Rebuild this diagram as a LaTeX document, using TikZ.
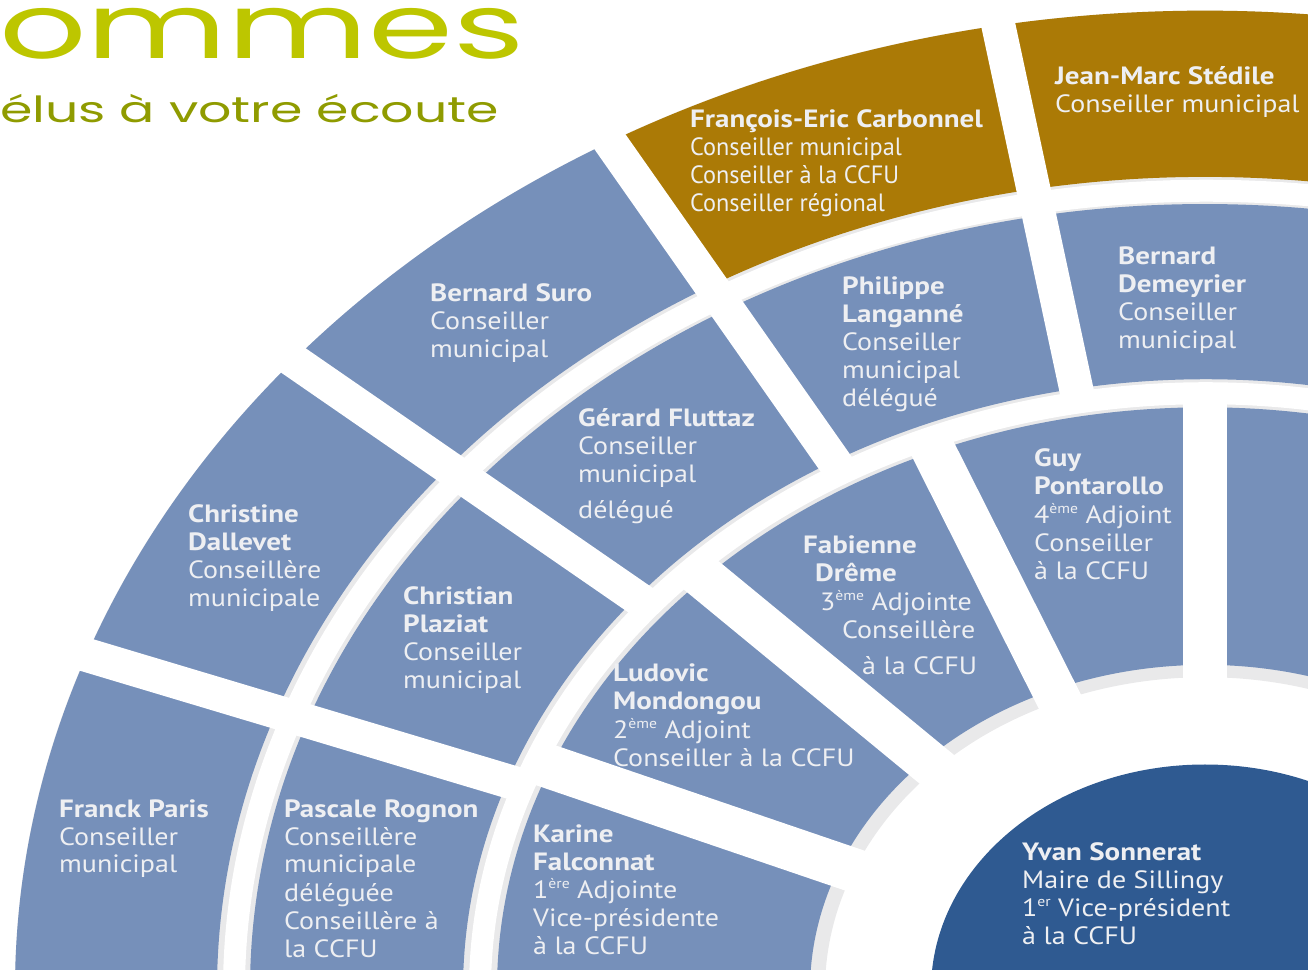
\documentclass[tikz,border=0pt]{standalone}
\usepackage{fontspec}
\setmainfont{PT Sans}
\newfontfamily\regfont[FakeStretch=1.12]{PT Sans}
\newfontfamily\serrefont[FakeStretch=0.97]{PT Sans}
\newfontfamily\nomfont[FakeStretch=1.16]{PT Sans Bold}
\newfontfamily\titrefont[FakeStretch=1.52]{Poppins}
\newfontfamily\soustitrefont[FakeStretch=1.45]{Poppins}
\usepackage{tikz}
\definecolor{fanblue}{HTML}{7690BA}
\definecolor{fangold}{HTML}{AB7A06}
\definecolor{mayorblue}{HTML}{2F5A91}
\definecolor{gapgrey}{HTML}{E9E9EA}
\definecolor{nametext}{HTML}{EEEFF2}
\definecolor{titlegreen}{HTML}{BDC600}
\definecolor{subgreen}{HTML}{8F9B00}
\tikzstyle{elu} = [anchor=base west, inner sep=0pt, text=nametext, font=\regfont\fontsize{25}{28}\selectfont]
\tikzstyle{gap} = [white, line cap=butt]
\newcommand{\nom}[1]{{\nomfont #1}}
\newcommand{\expo}[1]{\raisebox{0.8ex}{\fontsize{14}{14}\selectfont #1}}
\newcommand{\fiche}[1]{\begin{tabular}[t]{@{}l@{}}#1\end{tabular}}
\newcommand{\secteur}[5]{\fill[#5] (#1:#3) arc[start angle=#1, end angle=#2, radius=#3] -- (#2:#4) arc[start angle=#2, end angle=#1, radius=#4] -- cycle;}

\begin{document}
\begin{tikzpicture}[x=1pt,y=1pt]
\useasboundingbox (0,0) rectangle (1308,969);
\clip (0,0) rectangle (1308,969);

% the fan, centre below the page
\begin{scope}[shift={(1205,-21)}, yscale=0.823]
  \secteur{60}{182}{380}{1190}{gapgrey}
  % inner ring
  \secteur{60}{182}{395}{708}{fanblue}
  % middle ring
  \secteur{60}{182}{742}{955}{fanblue}
  % outer ring
  \secteur{120}{182}{988}{1190}{fanblue}
  \secteur{60}{120}{988}{1190}{fangold}
  % gaps
  \foreach \a in {90,112.5,135,157.5}
    \draw[gap, line width=44] (\a:370) -- (\a:725);
  \foreach \a in {100,120,140,160}
    \draw[gap, line width=34] (\a:725) -- (\a:1250);
  \draw[gap, line width=22] (60:725) arc[start angle=60, end angle=182, radius=725];
  \draw[gap, line width=22] (60:971) arc[start angle=60, end angle=182, radius=971];
  \fill[mayorblue] (0,0) circle[radius=274];
\end{scope}

% title
\node[anchor=base west, inner sep=0pt, text=titlegreen, font=\titrefont\fontsize{90}{90}\selectfont] (titre) at (-1,910) {ommes};
\node[anchor=base west, inner sep=0pt, text=subgreen, font=\soustitrefont\fontsize{36}{36}\selectfont] (soustitre) at (0,846) {élus à votre écoute};

% outer ring
\node[elu] (paris) at (59,152) {\fiche{\nom{Franck Paris}\\Conseiller\\municipal}};
\node[elu] (dallevet) at (188,446) {\fiche{\nom{Christine}\\\nom{Dallevet}\\Conseillère\\municipale}};
\node[elu] (suro) at (430,667) {\fiche{\nom{Bernard Suro}\\Conseiller\\municipal}};
\node[elu] (carbonnel) at (690,841) {\fiche{\nom{François-Eric Carbonnel}\\\serrefont Conseiller municipal\\\serrefont Conseiller à la CCFU\\\serrefont Conseiller régional}};
\node[elu] (stedile) at (1055,884) {\fiche{\nom{Jean-Marc Stédile}\\Conseiller municipal}};

% middle ring
\node[elu] (rognon) at (284,152) {\fiche{\nom{Pascale Rognon}\\Conseillère\\municipale\\déléguée\\Conseillère à\\la CCFU}};
\node[elu] (plaziat) at (403,364) {\fiche{\nom{Christian}\\\nom{Plaziat}\\Conseiller\\municipal}};
\node[elu] (fluttaz) at (578,542) {\fiche{\nom{Gérard Fluttaz}\\Conseiller\\municipal\\[8pt]délégué}};
\node[elu] (langanne) at (842,674) {\fiche{\nom{Philippe}\\\nom{Langanné}\\Conseiller\\municipal\\délégué}};
\node[elu] (demeyrier) at (1118,704) {\fiche{\nom{Bernard}\\\nom{Demeyrier}\\Conseiller\\municipal}};

% inner ring
\node[elu] (falconnat) at (533,127) {\fiche{\nom{Karine}\\\nom{Falconnat}\\1\expo{ère} Adjointe\\Vice-présidente\\à la CCFU}};
\node[elu] (mondongou) at (613,287) {\fiche{\nom{Ludovic}\\\nom{Mondongou}\\2\expo{ème} Adjoint\\Conseiller à la CCFU}};
\node[elu] (dreme) at (803,415) {\fiche{\nom{Fabienne}\\\hspace*{12pt}\nom{Drême}\\\hspace*{17pt}3\expo{ème} Adjointe\\\hspace*{39pt}Conseillère\\[8pt]\hspace*{59pt}à la CCFU}};
\node[elu] (pontarollo) at (1034,502) {\fiche{\nom{Guy}\\\nom{Pontarollo}\\4\expo{ème} Adjoint\\Conseiller\\à la CCFU}};

% mayor
\node[elu] (sonnerat) at (1022,109) {\fiche{\nom{Yvan Sonnerat}\\Maire de Sillingy\\1\expo{er} Vice-président\\à la CCFU}};
\end{tikzpicture}
\end{document}
